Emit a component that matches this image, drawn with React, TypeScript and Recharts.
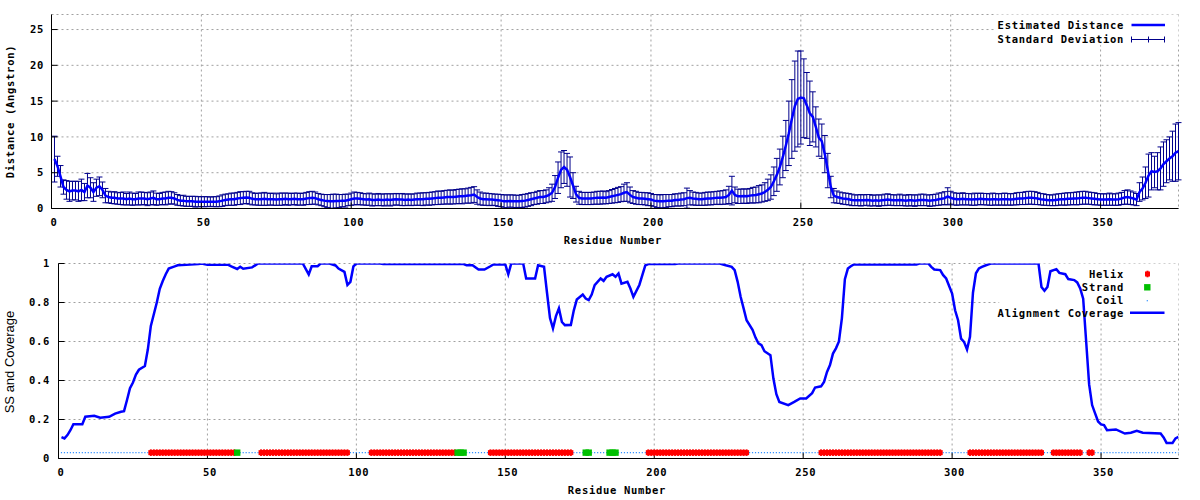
import React from 'react';
import {
  ComposedChart,
  Line,
  Scatter,
  XAxis,
  YAxis,
  CartesianGrid,
  ErrorBar,
  ReferenceArea,
} from 'recharts';

const MONO = '"DejaVu Sans Mono", monospace';

const residueTicks = [0, 50, 100, 150, 200, 250, 300, 350];
const distanceTicks = [0, 5, 10, 15, 20, 25];
const coverageTicks = [0, 0.2, 0.4, 0.6, 0.8, 1];

// estimated distance per residue (1..376)
const distance = [
  6.9, 5.9, 4.5, 3.0, 2.6, 2.4, 2.5, 2.5, 2.4, 2.6, 2.3, 3.2, 2.9, 2.3, 2.9, 3.1, 2.6, 1.8, 1.6, 1.5,
  1.5, 1.4, 1.4, 1.4, 1.3, 1.4, 1.3, 1.3, 1.4, 1.4, 1.4, 1.3, 1.4, 1.5, 1.3, 1.3, 1.4, 1.4, 1.5, 1.5,
  1.4, 1.2, 1.1, 1.1, 1.0, 1.0, 1.0, 0.95, 0.95, 0.95, 0.95, 0.95, 0.95, 0.95, 0.95, 1.0, 1.1, 1.2, 1.25, 1.3,
  1.3, 1.4, 1.45, 1.5, 1.55, 1.5, 1.35, 1.3, 1.3, 1.3, 1.35, 1.3, 1.3, 1.3, 1.25, 1.3, 1.3, 1.35, 1.3, 1.3,
  1.35, 1.3, 1.3, 1.3, 1.4, 1.45, 1.5, 1.45, 1.3, 1.2, 1.1, 1.05, 1.0, 1.0, 1.05, 1.05, 1.1, 1.1, 1.2, 1.3,
  1.4, 1.4, 1.35, 1.3, 1.25, 1.3, 1.2, 1.2, 1.25, 1.2, 1.2, 1.25, 1.2, 1.25, 1.3, 1.25, 1.25, 1.2, 1.25, 1.2,
  1.25, 1.3, 1.3, 1.3, 1.35, 1.35, 1.4, 1.45, 1.5, 1.5, 1.55, 1.6, 1.6, 1.6, 1.65, 1.7, 1.7, 1.75, 1.8, 1.85,
  1.95, 1.6, 1.4, 1.3, 1.3, 1.25, 1.25, 1.2, 1.15, 1.1, 1.0, 1.0, 1.05, 1.0, 1.0, 1.0, 1.05, 1.1, 1.2, 1.3,
  1.4, 1.5, 1.6, 1.6, 1.7, 1.9, 2.2, 3.0, 4.3, 5.4, 5.8, 5.4, 4.4, 3.2, 2.0, 1.5, 1.4, 1.4, 1.4, 1.4,
  1.45, 1.5, 1.5, 1.55, 1.5, 1.6, 1.7, 1.8, 1.9, 2.0, 2.2, 2.3, 1.9, 1.6, 1.5, 1.4, 1.4, 1.35, 1.3, 1.25,
  1.1, 1.05, 1.0, 1.0, 1.05, 1.1, 1.1, 1.2, 1.2, 1.25, 1.3, 1.45, 1.5, 1.4, 1.35, 1.3, 1.3, 1.35, 1.4, 1.4,
  1.45, 1.5, 1.5, 1.55, 1.6, 1.9, 2.5, 1.9, 1.7, 1.7, 1.75, 1.7, 1.8, 1.85, 1.9, 2.0, 2.1, 2.3, 2.6, 3.0,
  3.8, 4.7, 5.8, 7.2, 8.8, 10.5, 12.5, 14.3, 15.3, 15.5, 15.4, 14.4, 13.3, 12.8, 11.4, 9.9, 9.4, 7.6, 5.3, 3.0,
  1.8, 1.6, 1.5, 1.4, 1.35, 1.3, 1.2, 1.15, 1.15, 1.15, 1.15, 1.2, 1.15, 1.1, 1.15, 1.1, 1.15, 1.2, 1.25, 1.2,
  1.15, 1.15, 1.2, 1.15, 1.1, 1.15, 1.15, 1.1, 1.15, 1.2, 1.2, 1.15, 1.1, 1.15, 1.2, 1.3, 1.35, 1.45, 1.7, 1.5,
  1.35, 1.3, 1.3, 1.35, 1.3, 1.3, 1.25, 1.3, 1.3, 1.35, 1.3, 1.3, 1.25, 1.3, 1.3, 1.25, 1.3, 1.3, 1.3, 1.25,
  1.3, 1.35, 1.4, 1.4, 1.45, 1.5, 1.5, 1.45, 1.4, 1.3, 1.25, 1.2, 1.15, 1.15, 1.2, 1.25, 1.3, 1.3, 1.35, 1.35,
  1.4, 1.4, 1.45, 1.5, 1.5, 1.45, 1.4, 1.35, 1.3, 1.25, 1.25, 1.25, 1.3, 1.25, 1.25, 1.3, 1.4, 1.55, 1.6, 1.5,
  1.4, 1.25, 2.3, 2.8, 3.6, 4.6, 5.2, 5.1, 5.2, 5.6, 6.2, 6.6, 7.0, 7.3, 7.8, 8.0,
];

// standard deviation per residue (1..376)
const stdDev = [
  3.2, 1.4, 1.5, 1.0, 1.3, 1.4, 1.3, 1.3, 1.4, 1.5, 1.2, 1.7, 1.4, 1.3, 1.2, 1.3, 1.1, 1.0, 0.8, 0.8,
  0.85, 0.8, 0.85, 0.9, 0.8, 0.9, 0.85, 0.8, 0.9, 0.9, 0.85, 0.9, 0.9, 0.95, 0.85, 0.8, 0.85, 0.9, 0.9, 0.85,
  0.8, 0.75, 0.7, 0.75, 0.7, 0.7, 0.7, 0.75, 0.7, 0.7, 0.7, 0.7, 0.65, 0.7, 0.7, 0.75, 0.8, 0.8, 0.8, 0.85,
  0.85, 0.85, 0.9, 0.85, 0.85, 0.9, 0.85, 0.8, 0.85, 0.85, 0.9, 0.85, 0.8, 0.85, 0.8, 0.85, 0.85, 0.8, 0.85, 0.8,
  0.8, 0.85, 0.8, 0.85, 0.85, 0.9, 0.9, 0.85, 0.8, 0.8, 0.85, 0.9, 0.95, 1.0, 0.95, 0.9, 0.85, 0.9, 0.8, 0.85,
  0.9, 0.85, 0.85, 0.8, 0.8, 0.85, 0.85, 0.8, 0.85, 0.8, 0.85, 0.8, 0.85, 0.8, 0.8, 0.8, 0.85, 0.8, 0.8, 0.8,
  0.8, 0.85, 0.85, 0.9, 0.85, 0.9, 0.9, 0.9, 0.95, 0.9, 0.95, 0.95, 1.0, 0.95, 1.0, 1.0, 1.05, 1.0, 1.05, 1.1,
  1.1, 1.0, 0.9, 0.85, 0.85, 0.85, 0.8, 0.8, 0.85, 0.85, 0.9, 0.9, 0.85, 0.9, 0.85, 0.85, 0.9, 0.9, 0.9, 0.9,
  0.85, 0.9, 0.9, 0.9, 0.9, 1.0, 1.2, 1.6, 2.2, 2.5, 2.3, 2.3, 2.8, 1.8, 1.1, 0.9, 0.85, 0.85, 0.85, 0.85,
  0.85, 0.9, 0.9, 0.9, 0.85, 0.9, 0.95, 1.0, 1.05, 1.05, 1.2, 1.3, 1.1, 0.9, 0.9, 0.85, 0.85, 0.85, 0.9, 0.85,
  0.85, 0.9, 0.9, 0.95, 0.9, 0.85, 0.85, 0.85, 0.85, 0.9, 0.9, 1.4, 1.0, 0.9, 0.9, 0.85, 0.85, 0.9, 0.9, 0.9,
  0.9, 0.9, 0.95, 0.95, 1.0, 1.2, 2.0, 1.1, 1.0, 1.0, 1.0, 1.0, 1.0, 1.1, 1.1, 1.2, 1.2, 1.3, 1.5, 1.7,
  2.0, 2.3, 2.5, 2.9, 3.5, 4.5, 5.5, 6.3, 6.7, 6.5, 5.5, 4.6, 4.5, 3.5, 2.8, 2.6, 2.4, 2.6, 2.4, 1.5,
  1.0, 0.85, 0.8, 0.8, 0.8, 0.8, 0.8, 0.75, 0.75, 0.8, 0.75, 0.75, 0.8, 0.75, 0.75, 0.8, 0.75, 0.8, 0.8, 0.75,
  0.75, 0.75, 0.8, 0.75, 0.75, 0.8, 0.75, 0.8, 0.75, 0.8, 0.8, 0.75, 0.8, 0.8, 0.8, 0.85, 0.85, 0.9, 1.2, 0.9,
  0.85, 0.85, 0.8, 0.85, 0.8, 0.8, 0.8, 0.85, 0.8, 0.8, 0.8, 0.8, 0.8, 0.85, 0.8, 0.8, 0.8, 0.85, 0.8, 0.8,
  0.8, 0.85, 0.85, 0.85, 0.9, 0.9, 0.9, 0.9, 0.85, 0.8, 0.8, 0.75, 0.75, 0.75, 0.8, 0.8, 0.8, 0.85, 0.85, 0.85,
  0.85, 0.9, 0.9, 0.9, 0.9, 0.85, 0.85, 0.85, 0.8, 0.8, 0.8, 0.8, 0.85, 0.8, 0.8, 0.85, 0.85, 0.95, 1.0, 0.95,
  0.9, 0.85, 1.3, 1.6, 2.2, 3.0, 2.6, 2.2, 2.6, 3.0, 3.1, 3.0, 3.0, 3.5, 4.0, 4.0,
];

// alignment coverage, read at the residues where the curve changes
const coverageResidue = [
  1, 2, 3, 4, 5, 8, 9, 12, 14, 17, 19, 21, 22, 23, 24, 25, 26, 27, 29, 30,
  31, 32, 33, 34, 35, 36, 37, 39, 40, 47, 48, 50, 57, 58, 60, 61, 62, 65, 67, 82,
  84, 85, 87, 88, 91, 93, 94, 96, 97, 98, 99, 100, 108, 109, 136, 137, 139, 141, 143, 145,
  146, 150, 151, 152, 156, 157, 160, 161, 163, 164, 165, 166, 167, 168, 169, 170, 172, 173, 174, 176,
  177, 178, 179, 180, 182, 183, 184, 186, 187, 188, 189, 191, 192, 193, 195, 196, 197, 198, 207, 208,
  222, 224, 226, 227, 228, 229, 230, 231, 233, 234, 235, 236, 237, 239, 240, 241, 242, 245, 247, 249,
  251, 253, 254, 256, 257, 258, 259, 260, 261, 262, 263, 264, 265, 266, 267, 288, 289, 292, 293, 294,
  296, 297, 298, 300, 301, 302, 303, 304, 305, 306, 307, 308, 309, 310, 312, 313, 329, 330, 331, 332,
  333, 335, 336, 338, 339, 341, 342, 343, 344, 345, 346, 347, 348, 349, 350, 351, 352, 355, 358, 360,
  362, 364, 370, 371, 372, 374, 375, 376,
];
const coverage = [
  0.11, 0.103, 0.12, 0.145, 0.176, 0.176, 0.214, 0.219, 0.209, 0.214, 0.23, 0.24, 0.243, 0.3, 0.36, 0.39, 0.43, 0.455, 0.474, 0.56,
  0.68, 0.74, 0.8, 0.87, 0.91, 0.945, 0.974, 0.985, 0.991, 0.997, 1.0, 0.993, 0.993, 0.985, 0.972, 0.983, 0.973, 0.98, 1.0, 1.0,
  0.944, 0.986, 0.986, 1.0, 1.0, 0.99, 0.974, 0.957, 0.89, 0.906, 0.985, 1.0, 1.0, 0.997, 0.997, 0.991, 0.991, 0.969, 0.969, 0.986,
  0.995, 0.995, 0.945, 1.0, 1.0, 0.923, 0.923, 0.991, 0.983, 0.85, 0.72, 0.667, 0.73, 0.77, 0.7, 0.684, 0.685, 0.76, 0.815, 0.841,
  0.82, 0.812, 0.841, 0.889, 0.923, 0.911, 0.932, 0.945, 0.932, 0.949, 0.897, 0.906, 0.872, 0.829, 0.89, 0.94, 0.99, 0.997, 0.997, 1.0,
  1.0, 0.991, 0.983, 0.966, 0.906, 0.829, 0.77, 0.709, 0.66, 0.62, 0.59, 0.581, 0.55, 0.53, 0.41, 0.33, 0.29, 0.274, 0.29, 0.308,
  0.308, 0.335, 0.364, 0.37, 0.393, 0.444, 0.479, 0.538, 0.565, 0.6, 0.72, 0.92, 0.974, 0.986, 0.995, 0.995, 1.0, 1.0, 0.983, 0.969,
  0.966, 0.94, 0.923, 0.846, 0.76, 0.709, 0.615, 0.598, 0.559, 0.624, 0.85, 0.95, 0.975, 0.983, 0.995, 1.0, 1.0, 0.88, 0.86, 0.88,
  0.96, 0.971, 0.952, 0.945, 0.92, 0.915, 0.903, 0.872, 0.82, 0.6, 0.38, 0.274, 0.231, 0.19, 0.175, 0.171, 0.145, 0.149, 0.128, 0.132,
  0.142, 0.132, 0.128, 0.108, 0.08, 0.08, 0.103, 0.111,
];

// secondary structure segments (first, last residue)
const helixRanges = [[31, 59], [68, 97], [105, 133], [145, 172], [198, 231], [256, 296], [306, 330], [334, 343], [346, 347]];
const strandRanges = [[60, 60], [134, 136], [177, 178], [185, 187]];
const SS_LEVEL = 0.03;

const distRows = distance.map((d, i) => ({ res: i + 1, d, s: stdDev[i] }));
const covRows = coverageResidue.map((res, i) => ({ res, v: coverage[i] }));

const inRanges = (r: number, ranges: number[][]) => ranges.some(([a, b]) => r >= a && r <= b);
const allResidues = distance.map((_, i) => i + 1);
const helixPts = allResidues.filter((r) => inRanges(r, helixRanges)).map((res) => ({ res, v: SS_LEVEL }));
const strandPts = allResidues.filter((r) => inRanges(r, strandRanges)).map((res) => ({ res, v: SS_LEVEL }));
const coilPts = allResidues
  .filter((r) => !inRanges(r, helixRanges) && !inRanges(r, strandRanges))
  .map((res) => ({ res, v: SS_LEVEL }));

const yTickStyle = { fill: '#000', fontSize: 10.5, fontFamily: MONO, fontWeight: 700, letterSpacing: 0.7 };
const xTickStyle = { ...yTickStyle, dx: 2.5 };
const GRID = '#a0a0a0';
const BLUE = '#0000ff';
const NAVY = '#00008b';
const RED = '#ff0000';
const GREEN = '#00c000';
const COIL = '#2a8cff';

const HelixMark = (p: any) => (
  <g>
    <rect x={p.cx - 2.5} y={p.cy - 2.5} width={5} height={5} fill={RED} />
    <rect x={p.cx - 1} y={p.cy - 3.3} width={2} height={6.6} fill={RED} />
  </g>
);
const StrandMark = (p: any) => <rect x={p.cx - 3.2} y={p.cy - 3.2} width={6.4} height={6.4} fill={GREEN} />;
const CoilMark = (p: any) => <rect x={p.cx - 0.6} y={p.cy - 0.6} width={1.2} height={1.2} fill={COIL} />;

function DistancePanel() {
  return (
    <ComposedChart width={1200} height={250} data={distRows} margin={{ top: 14.5, right: 21.5, left: 0, bottom: 0 }}>
      <CartesianGrid xAxisId="b" yAxisId="l" stroke={GRID} strokeDasharray="2 3" />
      {/* key area keeps the grid clear */}
      <ReferenceArea xAxisId="b" yAxisId="l" x1={314.8} x2={376} y1={22.8} y2={27.1} fill="#fff" fillOpacity={1} stroke="none" ifOverflow="visible" />
      <XAxis xAxisId="b" dataKey="res" type="number" domain={[0, 376]} allowDataOverflow ticks={residueTicks} interval={0}
        height={41.5} tickSize={-6} tickMargin={16.4} stroke="#000" tick={xTickStyle} />
      <XAxis xAxisId="t" orientation="top" type="number" domain={[0, 376]} allowDataOverflow ticks={residueTicks} interval={0}
        height={0} tickSize={-6} tick={false} stroke="#000" />
      <YAxis yAxisId="l" type="number" domain={[0, 27.1]} allowDataOverflow ticks={distanceTicks} interval={0}
        width={51.5} tickSize={-6} tickMargin={13.5} stroke="#000" tick={yTickStyle} />
      <YAxis yAxisId="r" orientation="right" type="number" domain={[0, 27.1]} allowDataOverflow ticks={distanceTicks} interval={0}
        width={0} tickSize={-6} tick={false} stroke="#000" />
      <Line xAxisId="b" yAxisId="l" dataKey="d" stroke="none" strokeWidth={0} dot={false} activeDot={false} isAnimationActive={false}>
        <ErrorBar dataKey="s" width={3} stroke={NAVY} strokeWidth={1} direction="y" isAnimationActive={false} />
      </Line>
      <Line xAxisId="b" yAxisId="l" dataKey="d" type="linear" stroke={BLUE} strokeWidth={2.5} dot={false} activeDot={false} isAnimationActive={false} />
    </ComposedChart>
  );
}

function CoveragePanel() {
  return (
    <ComposedChart width={1200} height={250} margin={{ top: 13.5, right: 21.5, left: 0, bottom: 0 }}>
      <CartesianGrid xAxisId="b" yAxisId="l" stroke={GRID} strokeDasharray="2 3" />
      <ReferenceArea xAxisId="b" yAxisId="l" x1={315.8} x2={376} y1={0.71} y2={1} fill="#fff" fillOpacity={1} stroke="none" ifOverflow="visible" />
      <XAxis xAxisId="b" dataKey="res" type="number" domain={[0, 376]} allowDataOverflow ticks={residueTicks} interval={0}
        height={41.5} tickSize={-6} tickMargin={16.4} stroke="#000" tick={xTickStyle} />
      <XAxis xAxisId="t" orientation="top" type="number" domain={[0, 376]} allowDataOverflow ticks={residueTicks} interval={0}
        height={0} tickSize={-6} tick={false} stroke="#000" />
      <YAxis yAxisId="l" dataKey="v" type="number" domain={[0, 1]} allowDataOverflow ticks={coverageTicks} interval={0}
        width={58.5} tickSize={-6} tickMargin={14.5} stroke="#000" tick={yTickStyle}
        tickFormatter={(v: number) => (v === 0 || v === 1 ? String(v) : v.toFixed(1))} />
      <YAxis yAxisId="r" orientation="right" type="number" domain={[0, 1]} allowDataOverflow ticks={coverageTicks} interval={0}
        width={0} tickSize={-6} tick={false} stroke="#000" />
      <Scatter xAxisId="b" yAxisId="l" data={coilPts} dataKey="v" shape={CoilMark} isAnimationActive={false} />
      <Scatter xAxisId="b" yAxisId="l" data={helixPts} dataKey="v" shape={HelixMark} isAnimationActive={false} />
      <Scatter xAxisId="b" yAxisId="l" data={strandPts} dataKey="v" shape={StrandMark} isAnimationActive={false} />
      <Line xAxisId="b" yAxisId="l" data={covRows} dataKey="v" type="linear" stroke={BLUE} strokeWidth={2.5} dot={false} activeDot={false} isAnimationActive={false} />
    </ComposedChart>
  );
}

function Annotations() {
  return (
    <svg width={1200} height={500} style={{ position: 'absolute', left: 0, top: 0, pointerEvents: 'none' }}>
      <g fontFamily={MONO} fontWeight={700} fontSize={10.5} letterSpacing={0.7} fill="#000">
        <text x={613} y={243.5} textAnchor="middle">Residue Number</text>
        <text x={617} y={493.5} textAnchor="middle">Residue Number</text>
        <text transform="translate(14,111.5) rotate(-90)" textAnchor="middle">Distance (Angstron)</text>

        <text x={1124} y={29} textAnchor="end">Estimated Distance</text>
        <text x={1124} y={42.7} textAnchor="end">Standard Deviation</text>

        <text x={1124} y={277.5} textAnchor="end">Helix</text>
        <text x={1124} y={290.8} textAnchor="end">Strand</text>
        <text x={1124} y={304} textAnchor="end">Coil</text>
        <text x={1124} y={316.5} textAnchor="end">Alignment Coverage</text>
      </g>
      <text transform="translate(14,362) rotate(-90)" textAnchor="middle" fontFamily='"Liberation Sans", Arial, sans-serif'
        fontSize={13} fill="#000">SS and Coverage</text>

      <line x1={1131.5} x2={1165} y1={25} y2={25} stroke={BLUE} strokeWidth={2.5} />
      <line x1={1131.5} x2={1165} y1={39.5} y2={39.5} stroke={NAVY} strokeWidth={1} />
      <line x1={1131.5} x2={1131.5} y1={36.5} y2={42.5} stroke={NAVY} strokeWidth={1} />
      <line x1={1148.5} x2={1148.5} y1={36.5} y2={42.5} stroke={NAVY} strokeWidth={1} />
      <line x1={1164.5} x2={1164.5} y1={36.5} y2={42.5} stroke={NAVY} strokeWidth={1} />

      <HelixMark cx={1147.5} cy={274} />
      <StrandMark cx={1147.3} cy={287.3} />
      <CoilMark cx={1147.3} cy={300.7} />
      <line x1={1130} x2={1164.5} y1={312.7} y2={312.7} stroke={BLUE} strokeWidth={2.5} />
    </svg>
  );
}

export default function App() {
  return (
    <div style={{ position: 'absolute', left: 0, top: 0, width: 1200, height: 500, background: '#fff' }}>
      <div style={{ position: 'absolute', left: 0, top: 0 }}>
        <DistancePanel />
      </div>
      <div style={{ position: 'absolute', left: 0, top: 250 }}>
        <CoveragePanel />
      </div>
      <Annotations />
    </div>
  );
}
